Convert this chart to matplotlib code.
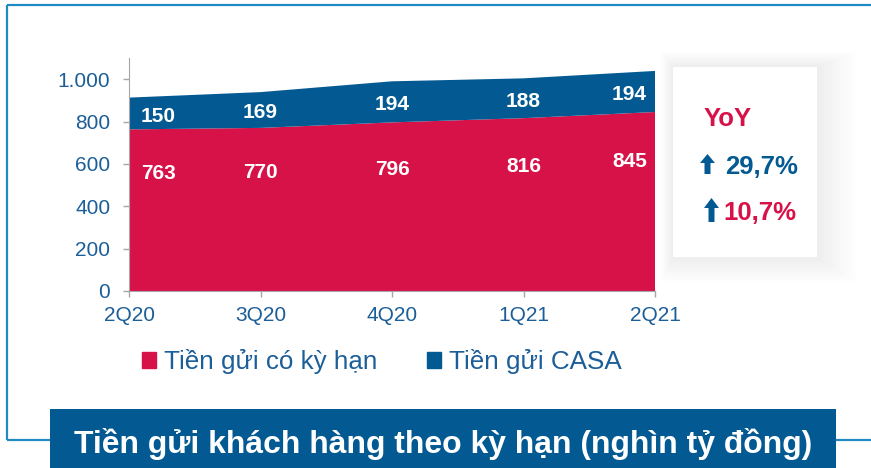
import matplotlib.pyplot as plt
from matplotlib import font_manager
from matplotlib.patches import Rectangle, FancyArrow
from matplotlib.ticker import FuncFormatter

# Data (nghìn tỷ đồng)
quarters = ['2Q20', '3Q20', '4Q20', '1Q21', '2Q21']
term_deposits = [763, 770, 796, 816, 845]
casa_deposits = [150, 169, 194, 188, 194]
yoy_casa = '29,7%'
yoy_term = '10,7%'
legend_labels = ['Tiền gửi có kỳ hạn', 'Tiền gửi CASA']
title = 'Tiền gửi khách hàng theo kỳ hạn (nghìn tỷ đồng)'

# Colours
RED = '#D71249'
BLUE = '#035A93'
FRAME = '#1E8BC3'
TXT = '#1B5E98'
GRID = '#A6A6A6'

names = {f.name for f in font_manager.fontManager.ttflist}
plt.rcParams['font.family'] = 'Liberation Sans'
title_font = 'Liberation Sans Narrow' if 'Liberation Sans Narrow' in names else 'Liberation Sans'

fig = plt.figure(figsize=(8.71, 4.68), dpi=100)

# Background layer in pixel coordinates (frame, banner, YoY box)
bg = fig.add_axes([0, 0, 1, 1])
bg.set_xlim(0, 871)
bg.set_ylim(468, 0)
bg.axis('off')

line_kw = dict(color=FRAME, lw=1.6, solid_capstyle='butt')
bg.plot([7, 871], [5, 5], **line_kw)
bg.plot([7, 7], [5, 440], **line_kw)
bg.plot([7, 50], [440, 440], **line_kw)
bg.plot([836, 871], [440, 440], **line_kw)

bg.add_patch(Rectangle((50, 409), 786, 60, color=BLUE, lw=0))
t = bg.text(443, 453, title, color='white', fontsize=24, fontweight='bold',
            family=title_font, ha='center', va='baseline')
renderer = fig.canvas.get_renderer()
w = t.get_window_extent(renderer).width
t.set_fontsize(24 * 739 / w)

# soft shadow + white box
for k in range(18):
    bg.add_patch(Rectangle((673 - 0.7 * k, 67 - 0.9 * k), 144 + 3.0 * k, 190 + 2.4 * k,
                           color='black', alpha=0.0045, lw=0))
bg.add_patch(Rectangle((673, 67), 144, 190, color='white', lw=0))

bg.text(728, 126, 'YoY', color=RED, fontsize=18.5, fontweight='bold', ha='center', va='baseline')
bg.text(725, 174, yoy_casa, color=BLUE, fontsize=18.5, fontweight='bold', ha='left', va='baseline')
bg.text(723, 220, yoy_term, color=RED, fontsize=18.5, fontweight='bold', ha='left', va='baseline')
bg.add_patch(FancyArrow(707.5, 174, 0, -20, width=6, head_width=15, head_length=9,
                        length_includes_head=True, color=BLUE, lw=0))
bg.add_patch(FancyArrow(711.5, 222, 0, -24, width=6, head_width=15, head_length=10,
                        length_includes_head=True, color=BLUE, lw=0))

# Main chart
ax = fig.add_axes([129 / 871, 177 / 468, 526 / 871, 233 / 468])
ax.patch.set_alpha(0)
x = list(range(len(quarters)))
ax.stackplot(x, term_deposits, casa_deposits, colors=[RED, BLUE], lw=0)
ax.set_xlim(0, len(quarters) - 1)
ax.set_ylim(0, 1100)
ax.set_xticks(x)
ax.set_xticklabels(quarters)
ax.set_yticks(range(0, 1001, 200))
ax.yaxis.set_major_formatter(FuncFormatter(lambda v, p: f'{v:,.0f}'.replace(',', '.')))
ax.tick_params(axis='both', colors=GRID, labelcolor=TXT, labelsize=15, length=4.5, width=1)
ax.tick_params(axis='y', pad=9)
ax.tick_params(axis='x', pad=6)
for s in ['top', 'right']:
    ax.spines[s].set_visible(False)
for s in ['left', 'bottom']:
    ax.spines[s].set_color(GRID)

# data labels
for i, (tv, cv) in enumerate(zip(term_deposits, casa_deposits)):
    if i == 0:
        xi, ha = i + 0.09, 'left'
    elif i == len(quarters) - 1:
        xi, ha = i - 0.06, 'right'
    else:
        xi, ha = i, 'center'
    lab = dict(color='white', fontsize=15, fontweight='bold', ha=ha, va='baseline')
    ax.text(xi, tv + cv / 2 - 40, str(cv), **lab)
    ax.text(xi, tv * 0.69, str(tv), **lab)

handles = [Rectangle((0, 0), 1, 1, color=RED), Rectangle((0, 0), 1, 1, color=BLUE)]
fig.legend(handles, legend_labels, loc='center', bbox_to_anchor=(382 / 871, 1 - 362 / 468),
           ncol=2, frameon=False, fontsize=18.7, handlelength=0.55, handleheight=0.55,
           handletextpad=0.3, columnspacing=1.9, labelcolor=TXT)

fig.savefig('out.png', dpi=100)
